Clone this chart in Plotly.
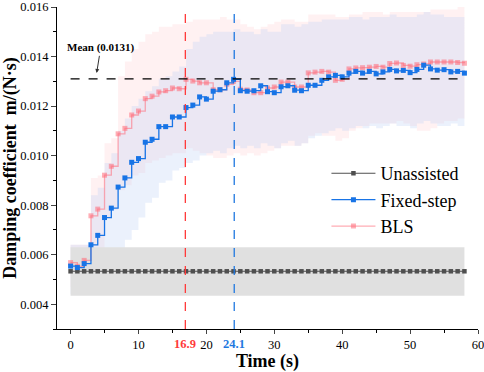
import plotly.graph_objects as go

time = list(range(59))

fixed_step = [0.00554, 0.00548, 0.00564, 0.00640, 0.00678, 0.00750, 0.00788, 0.00873, 0.00910, 0.00973,
              0.00988, 0.01054, 0.01066, 0.01117, 0.01117, 0.01156, 0.01156, 0.01194, 0.01204, 0.01237,
              0.01228, 0.01260, 0.01266, 0.01294, 0.01308, 0.01262, 0.01260, 0.01262, 0.01282, 0.01258,
              0.01254, 0.01278, 0.01282, 0.01264, 0.01262, 0.01284, 0.01284, 0.01304, 0.01318, 0.01324,
              0.01318, 0.01333, 0.01340, 0.01333, 0.01340, 0.01330, 0.01338, 0.01348, 0.01342, 0.01344,
              0.01335, 0.01348, 0.01365, 0.01350, 0.01345, 0.01347, 0.01338, 0.01340, 0.01333]

bls = [0.00568, 0.00553, 0.00577, 0.00757, 0.00784, 0.00921, 0.00957, 0.01088, 0.01110, 0.01164,
       0.01180, 0.01230, 0.01240, 0.01257, 0.01262, 0.01273, 0.01270, 0.01308, 0.01301, 0.01294,
       0.01294, 0.01266, 0.01266, 0.01288, 0.01300, 0.01268, 0.01265, 0.01254, 0.01254, 0.01273,
       0.01277, 0.01297, 0.01297, 0.01277, 0.01277, 0.01334, 0.01337, 0.01340, 0.01337, 0.01304,
       0.01308, 0.01350, 0.01354, 0.01355, 0.01357, 0.01360, 0.01357, 0.01372, 0.01374, 0.01364,
       0.01361, 0.01367, 0.01370, 0.01378, 0.01378, 0.01378, 0.01378, 0.01376, 0.01373]

unassisted = [0.00533, 0.00533, 0.00533, 0.00533, 0.00533, 0.00533, 0.00533, 0.00533, 0.00533, 0.00533,
              0.00533, 0.00533, 0.00533, 0.00533, 0.00533, 0.00533, 0.00533, 0.00533, 0.00533, 0.00533,
              0.00533, 0.00533, 0.00533, 0.00533, 0.00533, 0.00533, 0.00533, 0.00533, 0.00533, 0.00533,
              0.00533, 0.00533, 0.00533, 0.00533, 0.00533, 0.00533, 0.00533, 0.00533, 0.00533, 0.00533,
              0.00533, 0.00533, 0.00533, 0.00533, 0.00533, 0.00533, 0.00533, 0.00533, 0.00533, 0.00533,
              0.00533, 0.00533, 0.00533, 0.00533, 0.00533, 0.00533, 0.00533, 0.00533, 0.00533]
unassisted_band = (0.00434, 0.00630)

fixed_upper = [0.0064, 0.0064, 0.0064, 0.0084, 0.0087, 0.0097, 0.0101, 0.0110, 0.0115, 0.0120,
               0.0123, 0.0126, 0.0128, 0.0131, 0.0132, 0.0134, 0.0136, 0.0143, 0.0146, 0.0148,
               0.0149, 0.0150, 0.0150, 0.0150, 0.0151, 0.0150, 0.0150, 0.0149, 0.0151, 0.0150,
               0.0150, 0.0153, 0.0153, 0.0152, 0.0153, 0.0154, 0.0154, 0.0155, 0.0155, 0.0155,
               0.0155, 0.0156, 0.0156, 0.0155, 0.0156, 0.0156, 0.0156, 0.0157, 0.0156, 0.0156,
               0.0156, 0.0157, 0.0158, 0.0157, 0.0157, 0.0156, 0.0156, 0.0156, 0.0156]
fixed_lower = [0.0044, 0.0044, 0.0044, 0.0046, 0.0049, 0.0053, 0.0057, 0.0062, 0.0066, 0.0070,
               0.0075, 0.0081, 0.0083, 0.0089, 0.0090, 0.0094, 0.0095, 0.0097, 0.0098, 0.0100,
               0.0101, 0.0102, 0.0101, 0.0103, 0.0104, 0.0103, 0.0104, 0.0103, 0.0105, 0.0104,
               0.0103, 0.0105, 0.0106, 0.0104, 0.0105, 0.0107, 0.0108, 0.0109, 0.0110, 0.0111,
               0.0110, 0.0111, 0.0112, 0.0111, 0.0112, 0.0111, 0.0112, 0.0113, 0.0112, 0.0112,
               0.0111, 0.0113, 0.0114, 0.0113, 0.0112, 0.0112, 0.0113, 0.0112, 0.0112]
bls_upper = [0.0064, 0.0064, 0.0064, 0.0091, 0.0092, 0.0105, 0.0107, 0.0132, 0.0138, 0.0143,
             0.0146, 0.0149, 0.0150, 0.0152, 0.0152, 0.0153, 0.0153, 0.0154, 0.0155, 0.0155,
             0.0155, 0.0155, 0.0156, 0.0155, 0.0155, 0.0153, 0.0152, 0.0151, 0.0152, 0.0153,
             0.0154, 0.0155, 0.0155, 0.0154, 0.0154, 0.0157, 0.0157, 0.0157, 0.0157, 0.0156,
             0.0156, 0.0157, 0.0157, 0.0158, 0.0158, 0.0158, 0.0157, 0.0158, 0.0158, 0.0158,
             0.0158, 0.0158, 0.0158, 0.0159, 0.0159, 0.0159, 0.0159, 0.0160, 0.0160]
bls_lower = [0.0047, 0.0047, 0.0047, 0.0060, 0.0062, 0.0075, 0.0078, 0.0086, 0.0088, 0.0092,
             0.0093, 0.0097, 0.0098, 0.0099, 0.0100, 0.0101, 0.0101, 0.0103, 0.0102, 0.0101,
             0.0100, 0.0099, 0.0099, 0.0100, 0.0101, 0.0100, 0.0101, 0.0100, 0.0101, 0.0102,
             0.0103, 0.0104, 0.0104, 0.0104, 0.0105, 0.0108, 0.0109, 0.0108, 0.0108, 0.0106,
             0.0107, 0.0110, 0.0111, 0.0112, 0.0113, 0.0113, 0.0113, 0.0113, 0.0114, 0.0113,
             0.0112, 0.0110, 0.0110, 0.0111, 0.0113, 0.0114, 0.0114, 0.0115, 0.0115]

mean_value = 0.0131
t_bls = 16.9
t_fixed = 24.1
x_ticks = [0, 10, 20, 30, 40, 50, 60]
y_ticks = [0.004, 0.006, 0.008, 0.010, 0.012, 0.014, 0.016]

FONT = "Liberation Serif"
BLUE = "#1874e6"
PINK_LINE = "rgba(255,105,120,0.55)"
GRAY = "#4f4f4f"

fig = go.Figure()

# BLS band
fig.add_trace(go.Scatter(x=time, y=bls_lower, mode="lines", line=dict(width=0, shape="hv"),
                         showlegend=False, hoverinfo="skip"))
fig.add_trace(go.Scatter(x=time, y=bls_upper, mode="lines", line=dict(width=0, shape="hv"),
                         fill="tonexty", fillcolor="rgba(255,170,180,0.17)", showlegend=False, hoverinfo="skip"))
# Fixed-step band
fig.add_trace(go.Scatter(x=time, y=fixed_lower, mode="lines", line=dict(width=0, shape="hv"),
                         showlegend=False, hoverinfo="skip"))
fig.add_trace(go.Scatter(x=time, y=fixed_upper, mode="lines", line=dict(width=0, shape="hv"),
                         fill="tonexty", fillcolor="rgba(190,208,245,0.3)", showlegend=False, hoverinfo="skip"))
# Unassisted band
fig.add_trace(go.Scatter(x=[time[0], time[-1]], y=[unassisted_band[0]] * 2, mode="lines",
                         line=dict(width=0), showlegend=False, hoverinfo="skip"))
fig.add_trace(go.Scatter(x=[time[0], time[-1]], y=[unassisted_band[1]] * 2, mode="lines",
                         line=dict(width=0), fill="tonexty", fillcolor="#e0e0e0",
                         showlegend=False, hoverinfo="skip"))

fig.add_trace(go.Scatter(x=time, y=unassisted, mode="lines+markers", name="Unassisted",
                         line=dict(color=GRAY, width=1.1),
                         marker=dict(symbol="square", size=4.5, color=GRAY), legendrank=1))
fig.add_trace(go.Scatter(x=time, y=bls, mode="lines+markers", name="BLS",
                         line=dict(color=PINK_LINE, width=1.3, shape="hv"),
                         marker=dict(symbol="square", size=5, color=PINK_LINE), legendrank=3))
fig.add_trace(go.Scatter(x=time, y=fixed_step, mode="lines+markers", name="Fixed-step",
                         line=dict(color=BLUE, width=1.3, shape="hv"),
                         marker=dict(symbol="square", size=5, color=BLUE), legendrank=2))

# reference lines
fig.add_shape(type="line", xref="x", yref="y", x0=time[0], x1=time[-1], y0=mean_value, y1=mean_value,
              line=dict(color="black", width=1.2, dash="dash"))
fig.add_shape(type="line", xref="x", yref="paper", x0=t_bls, x1=t_bls, y0=0, y1=1,
              line=dict(color="#ff3a3a", width=1.3, dash="dash"))
fig.add_shape(type="line", xref="x", yref="paper", x0=t_fixed, x1=t_fixed, y0=0, y1=1,
              line=dict(color="#1f78e0", width=1.3, dash="dash"))

fig.add_annotation(x=3.7, y=mean_value, xref="x", yref="y", text="<b>Mean (0.0131)</b>",
                   showarrow=True, arrowhead=2, arrowsize=0.8, arrowwidth=1, arrowcolor="#333",
                   ax=5, ay=-31, standoff=6, font=dict(family=FONT, size=11, color="black"))
fig.add_annotation(x=t_bls, y=0, xref="x", yref="paper", yanchor="top", yshift=-6, showarrow=False,
                   text="<b>%.1f</b>" % t_bls, font=dict(family=FONT, size=12.5, color="#ff3a3a"))
fig.add_annotation(x=t_fixed, y=0, xref="x", yref="paper", yanchor="top", yshift=-6, showarrow=False,
                   text="<b>%.1f</b>" % t_fixed, font=dict(family=FONT, size=12.5, color="#1f78e0"))

fig.update_layout(
    width=484, height=372,
    margin=dict(l=57, r=6, t=7, b=43),
    plot_bgcolor="white", paper_bgcolor="white",
    font=dict(family=FONT, size=12.5, color="black"),
    legend=dict(x=0.64, y=0.54, xanchor="left", yanchor="top", bgcolor="rgba(0,0,0,0)",
                font=dict(family=FONT, size=18), tracegroupgap=0, traceorder="normal", itemwidth=44),
    xaxis=dict(range=[-2, 60], tickvals=x_ticks, ticks="outside", ticklen=4, tickwidth=1,
               showline=True, linecolor="black", linewidth=1.2, showgrid=False, zeroline=False,
               ticklabeloverflow="allow",
               minor=dict(dtick=5, tick0=0, ticks="outside", ticklen=3, tickcolor="black"),
               title=dict(text="<b>Time (s)</b>", font=dict(family=FONT, size=18), standoff=3),
               automargin=False),
    yaxis=dict(range=[0.003, 0.016], tickvals=y_ticks, tickformat=".3f", ticks="outside", ticklen=5,
               tickwidth=1, showline=True, linecolor="black", linewidth=1.2, showgrid=False, zeroline=False,
               ticklabeloverflow="allow",
               minor=dict(dtick=0.001, tick0=0.003, ticks="outside", ticklen=3, tickcolor="black"),
               title=dict(text="<b>Damping coefficient\u00a0\u00a0m/(N\u00b7s)</b>", font=dict(family=FONT, size=18),
                          standoff=2),
               automargin=False),
)

fig.write_html("out.html", config={"displayModeBar": False})

# remove the default page margin so the figure fills the 484x372 window exactly
with open("out.html", "r", encoding="utf-8") as f:
    html = f.read()
html = html.replace("<head>", "<head><style>html,body{margin:0;padding:0;overflow:hidden;}</style>", 1)
with open("out.html", "w", encoding="utf-8") as f:
    f.write(html)
